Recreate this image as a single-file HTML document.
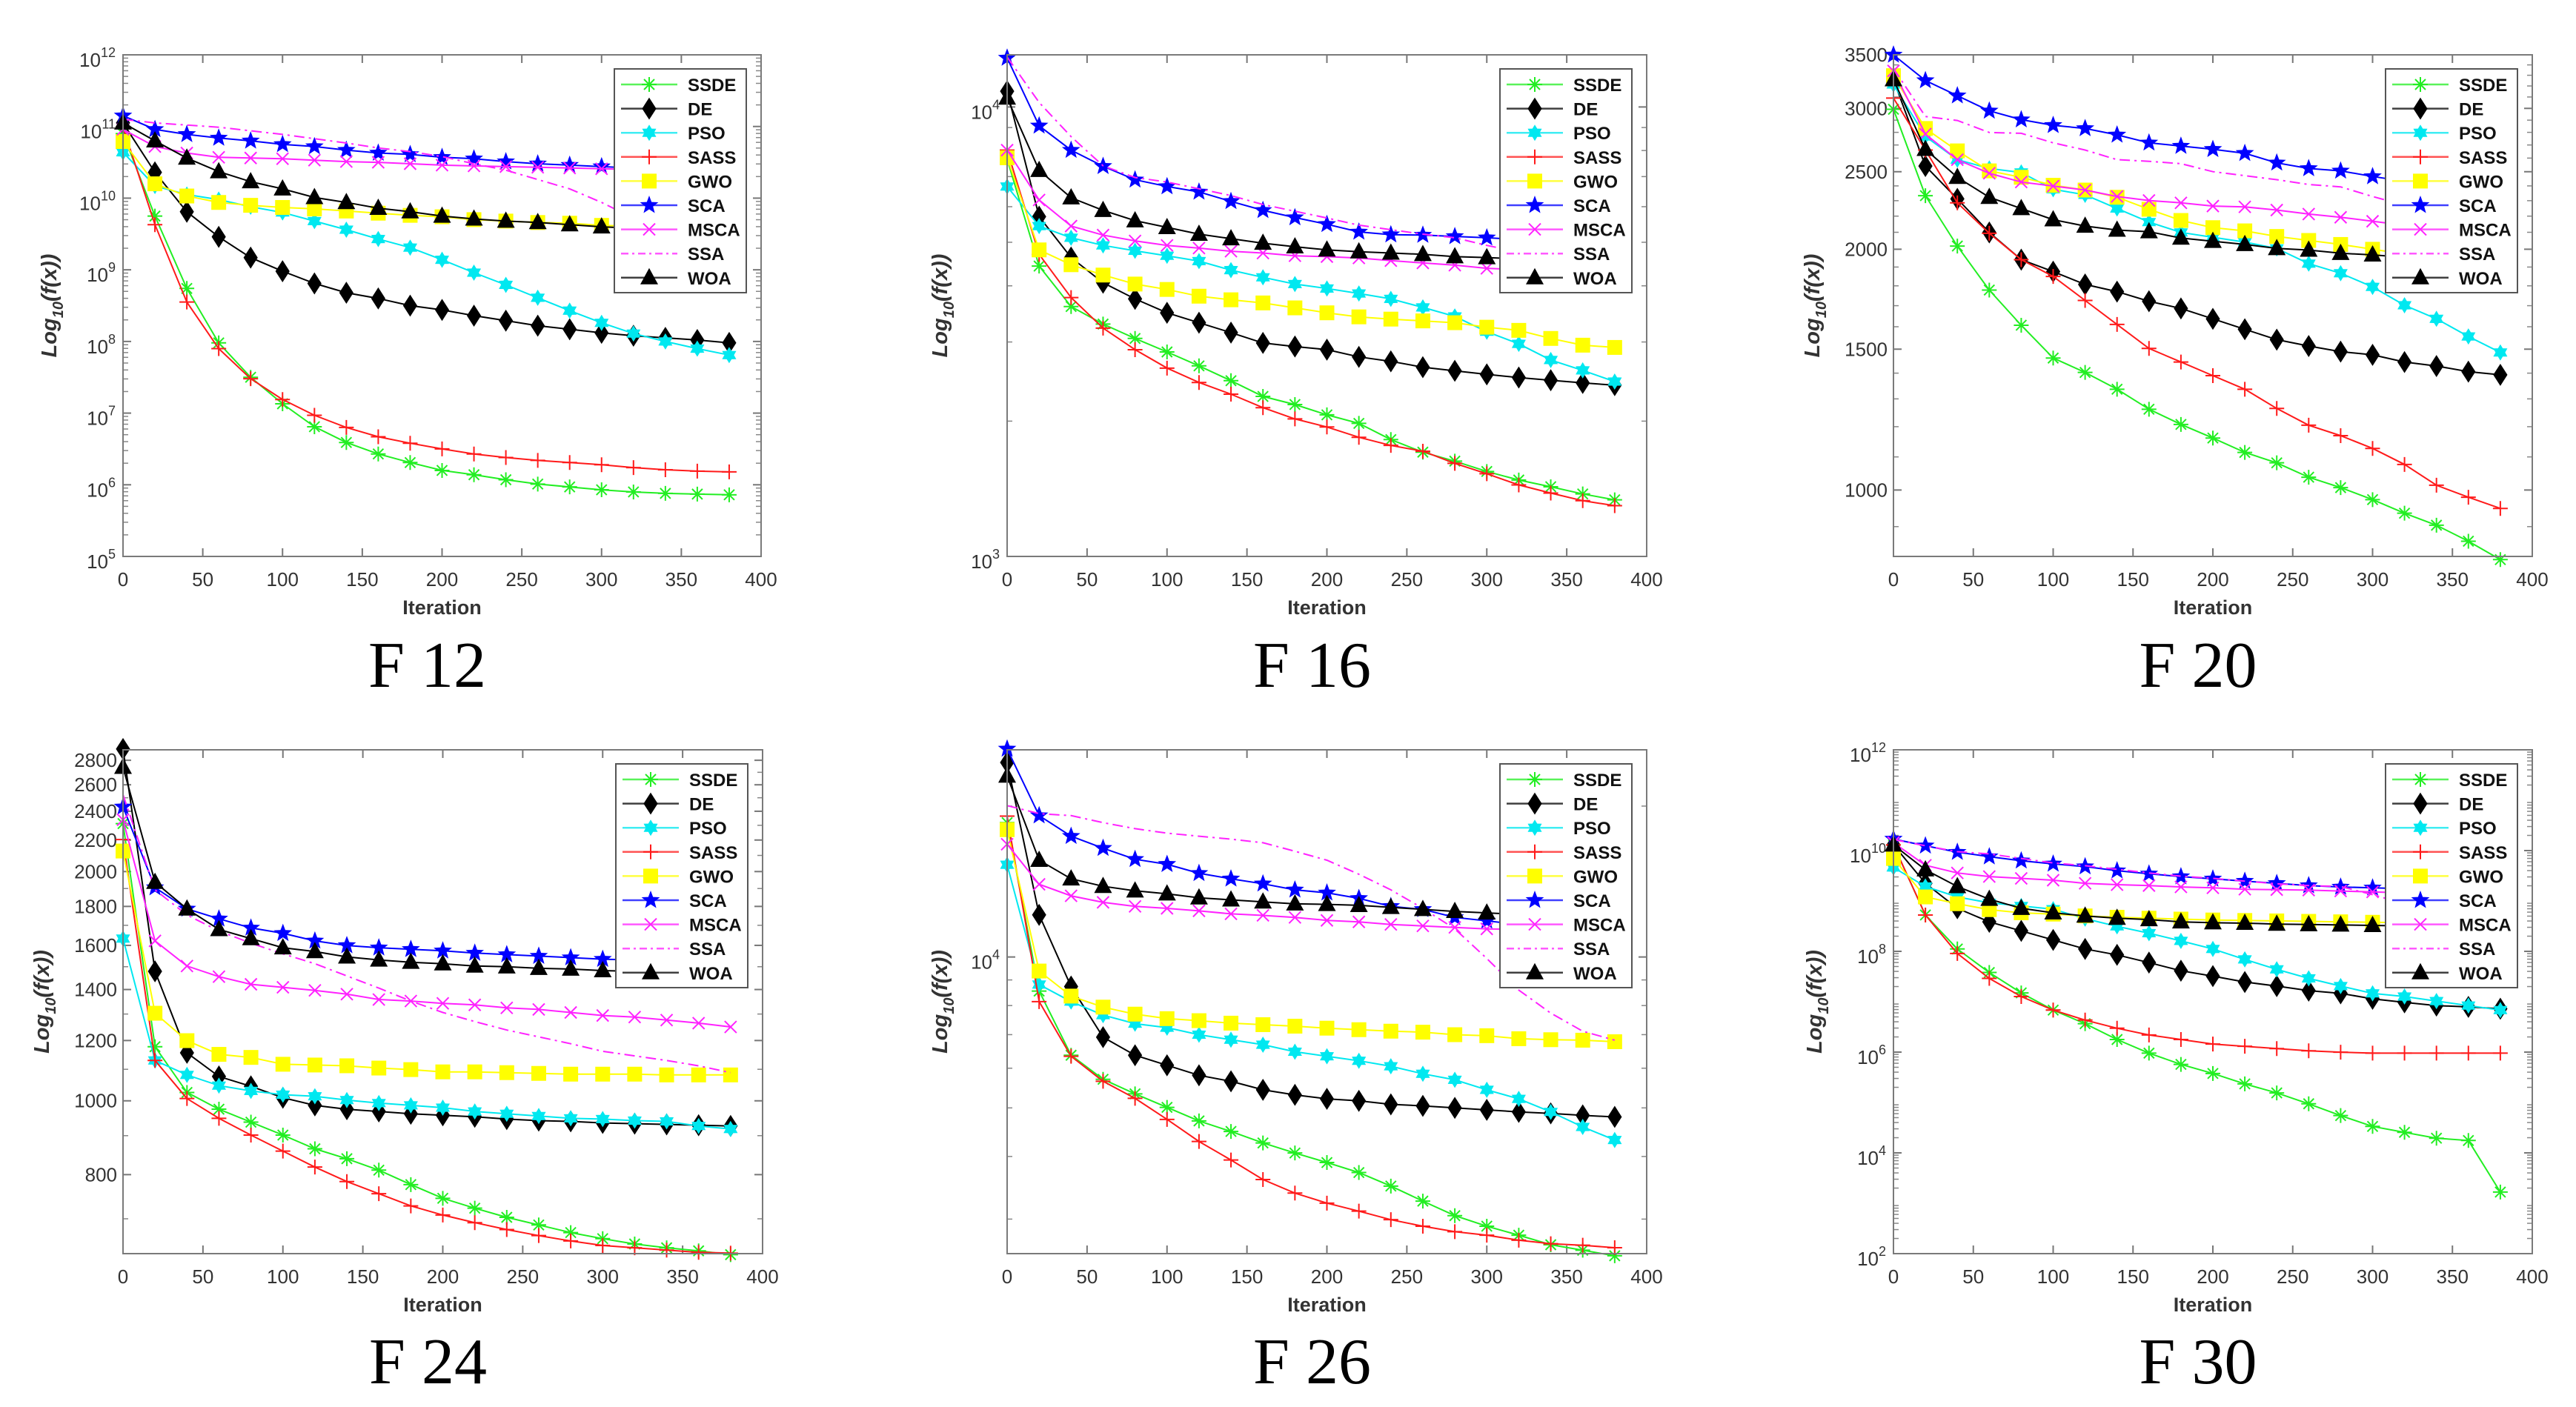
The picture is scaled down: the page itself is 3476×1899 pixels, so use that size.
<!DOCTYPE html>
<html><head><meta charset="utf-8"><style>
html,body{margin:0;padding:0;background:#fff;}
svg{display:block;}
</style></head>
<body>
<svg id="fig" xmlns="http://www.w3.org/2000/svg" width="3476" height="1899" viewBox="0 0 3476 1899"></svg>
<script>
const iters=[0,20,40,60,80,100,120,140,160,180,200,220,240,260,280,300,320,340,360,380];
const seriesNames=['SSDE','DE','PSO','SASS','GWO','SCA','MSCA','SSA','WOA'];
const xTicks=[0,50,100,150,200,250,300,350,400];

// values are log10(f(x))
const f12_SSDE=[10.9,9.75,8.74,7.98,7.5,7.13,6.81,6.59,6.43,6.31,6.2,6.14,6.07,6.01,5.97,5.93,5.9,5.88,5.87,5.86];
const f12_DE=[11.05,10.36,9.81,9.46,9.17,8.98,8.81,8.68,8.6,8.5,8.44,8.36,8.29,8.22,8.17,8.12,8.08,8.05,8.02,7.98];
const f12_PSO=[10.64,10.17,10.05,9.98,9.88,9.8,9.68,9.56,9.43,9.31,9.14,8.96,8.79,8.61,8.43,8.26,8.11,8.0,7.9,7.81];
const f12_SASS=[10.99,9.63,8.55,7.9,7.48,7.19,6.97,6.8,6.67,6.58,6.5,6.43,6.38,6.34,6.31,6.28,6.24,6.21,6.19,6.18];
const f12_GWO=[10.79,10.2,10.03,9.94,9.9,9.87,9.85,9.82,9.79,9.76,9.74,9.7,9.68,9.66,9.65,9.62,9.61,9.6,9.58,9.57];
const f12_SCA=[11.15,10.96,10.89,10.84,10.8,10.75,10.72,10.67,10.63,10.61,10.57,10.55,10.51,10.48,10.46,10.44,10.42,10.4,10.38,10.37];
const f12_MSCA=[10.96,10.72,10.63,10.57,10.56,10.55,10.53,10.51,10.5,10.48,10.46,10.45,10.44,10.43,10.42,10.41,10.4,10.39,10.38,10.37];
const f12_SSA=[11.1,11.05,11.02,10.99,10.94,10.89,10.83,10.77,10.7,10.65,10.58,10.48,10.39,10.26,10.13,9.94,9.72,9.5,9.3,9.1];
const f12_WOA=[11.05,10.8,10.56,10.37,10.23,10.13,10.01,9.94,9.86,9.81,9.75,9.71,9.68,9.66,9.63,9.6,9.58,9.56,9.55,9.54];

const f16_SSDE=[3.884,3.646,3.556,3.517,3.485,3.455,3.424,3.391,3.356,3.338,3.315,3.296,3.26,3.232,3.212,3.189,3.17,3.155,3.139,3.126];
const f16_DE=[4.035,3.756,3.665,3.609,3.573,3.542,3.52,3.498,3.475,3.467,3.46,3.444,3.434,3.421,3.413,3.405,3.398,3.392,3.386,3.381];
const f16_PSO=[3.823,3.735,3.709,3.692,3.68,3.669,3.657,3.637,3.621,3.606,3.596,3.585,3.573,3.554,3.534,3.5,3.473,3.437,3.414,3.389];
const f16_SASS=[3.904,3.672,3.576,3.508,3.46,3.419,3.387,3.361,3.331,3.306,3.288,3.265,3.247,3.234,3.207,3.184,3.159,3.141,3.124,3.113];
const f16_GWO=[3.887,3.682,3.649,3.626,3.606,3.594,3.579,3.571,3.564,3.553,3.542,3.533,3.528,3.524,3.52,3.51,3.503,3.485,3.47,3.465];
const f16_SCA=[4.109,3.958,3.904,3.868,3.838,3.823,3.811,3.79,3.77,3.754,3.739,3.722,3.716,3.715,3.712,3.709,3.705,3.702,3.699,3.697];
const f16_MSCA=[3.904,3.793,3.735,3.715,3.702,3.692,3.686,3.679,3.675,3.669,3.667,3.664,3.658,3.653,3.648,3.641,3.638,3.635,3.632,3.629];
const f16_SSA=[4.111,4.01,3.934,3.869,3.843,3.833,3.818,3.803,3.783,3.768,3.753,3.737,3.727,3.717,3.709,3.692,3.677,3.662,3.646,3.631];
const f16_WOA=[4.02,3.859,3.798,3.77,3.747,3.732,3.717,3.707,3.697,3.689,3.682,3.678,3.675,3.672,3.667,3.665,3.662,3.66,3.658,3.656];

const f20_SSDE=[3.476,3.368,3.305,3.25,3.206,3.165,3.147,3.126,3.101,3.082,3.065,3.047,3.034,3.016,3.003,2.988,2.971,2.956,2.936,2.913];
const f20_DE=[3.513,3.405,3.364,3.322,3.288,3.273,3.257,3.248,3.236,3.227,3.214,3.201,3.188,3.18,3.173,3.169,3.16,3.155,3.148,3.144];
const f20_PSO=[3.507,3.442,3.413,3.402,3.397,3.376,3.369,3.352,3.335,3.322,3.316,3.31,3.302,3.283,3.271,3.254,3.231,3.214,3.192,3.172];
const f20_SASS=[3.49,3.425,3.359,3.321,3.288,3.267,3.237,3.207,3.177,3.16,3.143,3.126,3.102,3.081,3.068,3.052,3.032,3.006,2.991,2.977];
const f20_GWO=[3.518,3.452,3.424,3.399,3.391,3.381,3.375,3.366,3.351,3.337,3.328,3.324,3.317,3.312,3.307,3.301,3.295,3.289,3.284,3.278];
const f20_SCA=[3.544,3.512,3.493,3.474,3.463,3.456,3.452,3.444,3.434,3.43,3.426,3.421,3.409,3.402,3.399,3.392,3.386,3.38,3.375,3.369];
const f20_MSCA=[3.524,3.445,3.413,3.396,3.385,3.38,3.375,3.367,3.362,3.359,3.355,3.354,3.35,3.345,3.341,3.336,3.331,3.326,3.322,3.318];
const f20_SSA=[3.527,3.467,3.462,3.447,3.446,3.434,3.425,3.413,3.411,3.408,3.398,3.393,3.388,3.382,3.379,3.367,3.356,3.345,3.334,3.322];
const f20_WOA=[3.513,3.426,3.391,3.366,3.352,3.338,3.33,3.325,3.323,3.315,3.311,3.307,3.302,3.3,3.296,3.294,3.291,3.288,3.285,3.282];

const f24_SSDE=[3.364,3.071,3.011,2.989,2.972,2.955,2.937,2.924,2.909,2.89,2.872,2.859,2.847,2.837,2.827,2.819,2.812,2.807,2.803,2.798];
const f24_DE=[3.462,3.17,3.063,3.032,3.019,3.004,2.994,2.989,2.986,2.983,2.981,2.979,2.976,2.974,2.973,2.971,2.97,2.969,2.968,2.967];
const f24_PSO=[3.213,3.053,3.034,3.02,3.013,3.008,3.006,3.001,2.997,2.994,2.991,2.986,2.983,2.98,2.977,2.976,2.974,2.973,2.967,2.963];
const f24_SASS=[3.343,3.053,3.003,2.977,2.955,2.934,2.913,2.894,2.878,2.862,2.85,2.84,2.831,2.823,2.816,2.81,2.807,2.804,2.801,2.8];
const f24_GWO=[3.328,3.115,3.079,3.061,3.057,3.048,3.047,3.046,3.043,3.041,3.038,3.038,3.037,3.036,3.035,3.035,3.035,3.034,3.034,3.034];
const f24_SCA=[3.386,3.28,3.252,3.239,3.227,3.22,3.21,3.204,3.201,3.199,3.197,3.194,3.192,3.19,3.188,3.186,3.185,3.184,3.182,3.182];
const f24_MSCA=[3.369,3.21,3.177,3.163,3.153,3.149,3.145,3.14,3.133,3.131,3.128,3.126,3.122,3.12,3.116,3.112,3.11,3.106,3.102,3.097];
const f24_SSA=[3.402,3.277,3.244,3.223,3.207,3.193,3.18,3.164,3.148,3.131,3.116,3.104,3.093,3.084,3.075,3.065,3.059,3.053,3.046,3.037];
const f24_WOA=[3.438,3.287,3.252,3.225,3.213,3.201,3.196,3.189,3.185,3.182,3.18,3.177,3.176,3.174,3.173,3.171,3.17,3.17,3.169,3.168];

const f26_SSDE=[4.268,3.932,3.804,3.756,3.727,3.7,3.673,3.652,3.629,3.609,3.59,3.57,3.543,3.513,3.484,3.463,3.445,3.426,3.415,3.404];
const f26_DE=[4.388,4.084,3.941,3.84,3.804,3.784,3.764,3.752,3.735,3.725,3.717,3.713,3.706,3.703,3.699,3.695,3.691,3.688,3.684,3.681];
const f26_PSO=[4.184,3.945,3.911,3.884,3.867,3.859,3.845,3.835,3.825,3.811,3.802,3.793,3.782,3.767,3.755,3.735,3.717,3.691,3.661,3.635];
const f26_SASS=[4.281,3.911,3.802,3.752,3.718,3.676,3.632,3.595,3.556,3.529,3.509,3.493,3.476,3.463,3.452,3.445,3.435,3.428,3.425,3.42];
const f26_GWO=[4.254,3.972,3.922,3.9,3.886,3.877,3.873,3.868,3.865,3.862,3.858,3.855,3.852,3.85,3.845,3.843,3.837,3.835,3.834,3.831];
const f26_SCA=[4.415,4.282,4.241,4.217,4.195,4.185,4.167,4.156,4.146,4.134,4.128,4.117,4.101,4.095,4.079,4.072,4.065,4.061,4.057,4.054];
const f26_MSCA=[4.225,4.145,4.122,4.109,4.101,4.097,4.092,4.086,4.083,4.079,4.073,4.07,4.065,4.062,4.059,4.056,4.055,4.053,4.051,4.049];
const f26_SSA=[4.302,4.286,4.282,4.268,4.256,4.247,4.241,4.235,4.228,4.211,4.193,4.165,4.134,4.097,4.056,3.997,3.934,3.888,3.852,3.834];
const f26_WOA=[4.361,4.193,4.156,4.141,4.132,4.126,4.118,4.114,4.11,4.106,4.105,4.103,4.099,4.095,4.091,4.088,4.085,4.084,4.082,4.08];

const f30_SSDE=[10.113,8.721,8.047,7.58,7.175,6.834,6.564,6.25,5.98,5.756,5.576,5.369,5.19,4.974,4.74,4.525,4.408,4.291,4.246,3.222];
const f30_DE=[10.113,9.35,8.855,8.586,8.406,8.226,8.047,7.93,7.777,7.615,7.508,7.391,7.31,7.22,7.166,7.058,6.987,6.924,6.897,6.861];
const f30_PSO=[9.664,9.287,9.08,8.963,8.9,8.837,8.649,8.496,8.361,8.208,8.047,7.84,7.642,7.463,7.31,7.166,7.103,7.013,6.924,6.834];
const f30_SASS=[10.113,8.721,7.957,7.463,7.103,6.834,6.636,6.474,6.34,6.25,6.16,6.115,6.07,6.025,5.998,5.98,5.98,5.98,5.98,5.98];
const f30_GWO=[9.844,9.08,8.945,8.828,8.765,8.739,8.703,8.676,8.658,8.64,8.622,8.613,8.604,8.595,8.586,8.577,8.568,8.559,8.55,8.541];
const f30_SCA=[10.23,10.095,9.969,9.88,9.799,9.736,9.682,9.601,9.538,9.484,9.439,9.394,9.35,9.305,9.278,9.26,9.242,9.224,9.206,9.188];
const f30_MSCA=[10.158,9.709,9.556,9.484,9.448,9.412,9.35,9.323,9.305,9.278,9.26,9.233,9.224,9.215,9.197,9.179,9.161,9.143,9.125,9.107];
const f30_SSA=[10.221,10.095,9.978,9.934,9.844,9.754,9.7,9.628,9.556,9.493,9.448,9.394,9.341,9.305,9.287,9.125,8.945,8.855,8.765,8.676];
const f30_WOA=[10.113,9.619,9.287,9.035,8.855,8.765,8.703,8.658,8.631,8.586,8.568,8.559,8.541,8.532,8.523,8.514,8.505,8.496,8.496,8.487];

// y tick values
const f12Ticks=[5,6,7,8,9,10,11,12];
const f16Ticks=[3,4];
const f20Ticks=[1000,1500,2000,2500,3000,3500];
const f24Ticks=[800,1000,1200,1400,1600,1800,2000,2200,2400,2600,2800];
const f26Ticks=[4];
const f30Ticks=[2,4,6,8,10,12];

const NS='http://www.w3.org/2000/svg';
const svg=document.getElementById('fig');
function mk(tag,attrs,parent){const e=document.createElementNS(NS,tag);for(const k in attrs)e.setAttribute(k,attrs[k]);(parent||svg).appendChild(e);return e;}

const styles={
 SSDE:{c:'#22ee22',m:'ast'},DE:{c:'#000000',m:'diamond'},PSO:{c:'#00e8f0',m:'hex'},
 SASS:{c:'#ff1a1a',m:'plus'},GWO:{c:'#ffff00',m:'square'},SCA:{c:'#0000ff',m:'star'},
 MSCA:{c:'#ff22ff',m:'x'},SSA:{c:'#ff22ff',m:'none',dash:'14,6,3,6'},WOA:{c:'#000000',m:'tri'}
};

function marker(g,type,x,y,c){
 const r=10;
 if(type==='ast'){mk('path',{d:`M${x-r},${y}H${x+r}M${x},${y-r}V${y+r}M${x-7},${y-7}L${x+7},${y+7}M${x-7},${y+7}L${x+7},${y-7}`,stroke:c,'stroke-width':2,fill:'none'},g);}
 else if(type==='plus'){mk('path',{d:`M${x-r},${y}H${x+r}M${x},${y-r}V${y+r}`,stroke:c,'stroke-width':2,fill:'none'},g);}
 else if(type==='x'){mk('path',{d:`M${x-8},${y-8}L${x+8},${y+8}M${x-8},${y+8}L${x+8},${y-8}`,stroke:c,'stroke-width':2,fill:'none'},g);}
 else if(type==='diamond'){mk('polygon',{points:`${x},${y-14} ${x+9},${y} ${x},${y+14} ${x-9},${y}`,fill:c,stroke:c},g);}
 else if(type==='square'){mk('rect',{x:x-10,y:y-10,width:20,height:20,fill:c},g);}
 else if(type==='tri'){mk('polygon',{points:`${x},${y-13} ${x+12},${y+9} ${x-12},${y+9}`,fill:c},g);}
 else if(type==='star'||type==='hex'){
  const n=type==='star'?5:6,ro=type==='star'?13:11,ri=type==='star'?5.5:6.5;let p=[];
  for(let i=0;i<2*n;i++){const a=-Math.PI/2+i*Math.PI/n,rr=i%2?ri:ro;p.push((x+rr*Math.cos(a)).toFixed(1)+','+(y+rr*Math.sin(a)).toFixed(1));}
  mk('polygon',{points:p.join(' '),fill:c},g);
 }
}

function yLabelSup(g,x,y,exp,name){
 const t=mk('text',{x:x,y:y,'text-anchor':'end','font-family':'Liberation Sans, sans-serif','font-size':26,fill:'#333'},g);
 
 
 t.appendChild(document.createTextNode('10'));
 const s=mk('tspan',{dy:-13,'font-size':18},t);s.textContent=exp;
 t.setAttribute('dx',-18);
}

function drawChart(cfg){
 const g=mk('g',{});
 
 
 const {x0,x1,y0,y1,lo,hi}=cfg;
 const xs=v=>x0+v/400*(x1-x0);
 const ys=v=>y1-(v-lo)/(hi-lo)*(y1-y0);
 const mg=mk('g',{stroke:'#888','stroke-width':1.5},g);
 
 
 for(let d=Math.floor(lo)-1;d<=Math.ceil(hi);d++){
  const step=cfg.minorStep?cfg.minorStep:Math.pow(10,d);
  const start=cfg.minorStep?Math.ceil(Math.pow(10,lo)/step)*step:2*Math.pow(10,d);
  if(cfg.minorStep&&d!==Math.floor(lo)) continue;
  const end=cfg.minorStep?Math.pow(10,hi):9*Math.pow(10,d);
  for(let v=start;v<=end+1e-9;v+=step){
   const lv=Math.log10(v); if(lv<=lo||lv>=hi) continue;
   const yy=ys(lv);
   mk('line',{x1:x0,x2:x0+7,y1:yy,y2:yy},mg);mk('line',{x1:x1,x2:x1-7,y1:yy,y2:yy},mg);
  }
 }
 xTicks.forEach(t=>{
  const xx=xs(t);
  mk('line',{x1:xx,x2:xx,y1:y1,y2:y1-11,stroke:'#777','stroke-width':2},g);
  mk('line',{x1:xx,x2:xx,y1:y0,y2:y0+11,stroke:'#777','stroke-width':2},g);
  const tl=mk('text',{x:xx,y:y1+40,'text-anchor':'middle','font-family':'Liberation Sans, sans-serif','font-size':26,fill:'#333'},g);
  
  
  tl.textContent=t;
 });
 cfg.ticks.forEach(t=>{
  const lv=cfg.plain?Math.log10(t):t;
  const yy=ys(lv);
  mk('line',{x1:x0,x2:x0+11,y1:yy,y2:yy,stroke:'#777','stroke-width':2},g);
  mk('line',{x1:x1,x2:x1-11,y1:yy,y2:yy,stroke:'#777','stroke-width':2},g);
  if(cfg.plain){
   const tl=mk('text',{x:x0-8,y:yy+9,'text-anchor':'end','font-family':'Liberation Sans, sans-serif','font-size':26,fill:'#333'},g);
   
   
   tl.textContent=t;
  } else {
   yLabelSup(g,x0+8,yy+16,t,'y-tick-label');
  }
 });
 seriesNames.forEach((n,si)=>{
  const vals=cfg.data[si];const st=styles[n];
  const sg=mk('g',{},g);
  
  
  const pts=vals.map((v,i)=>xs(iters[i]).toFixed(1)+','+ys(v).toFixed(1)).join(' ');
  const pl=mk('polyline',{points:pts,fill:'none',stroke:st.c,'stroke-width':2},sg);
  if(st.dash)pl.setAttribute('stroke-dasharray',st.dash);
  if(st.m!=='none')vals.forEach((v,i)=>marker(sg,st.m,xs(iters[i]),ys(v),st.c));
 });
 const fr=mk('rect',{x:x0,y:y0,width:x1-x0,height:y1-y0,fill:'none',stroke:'#7a7a7a','stroke-width':2},g);
 
 
 const lx=x1-20-178,ly=y0+19;
 const lg=mk('g',{},g);
 
 
 mk('rect',{x:lx,y:ly,width:178,height:302,fill:'#fff',stroke:'#555','stroke-width':2},lg);
 seriesNames.forEach((n,i)=>{
  const st=styles[n];const yy=ly+21+i*32.6;
  const eg=mk('g',{},lg);
  
  
  const ln=mk('line',{x1:lx+9,x2:lx+85,y1:yy,y2:yy,stroke:st.c,'stroke-width':2.5,opacity:0.75},eg);
  if(st.dash)ln.setAttribute('stroke-dasharray','10,5,3,5');
  if(st.m!=='none')marker(eg,st.m,lx+47,yy,st.c);
  const tx=mk('text',{x:lx+99,y:yy+9,'font-family':'Liberation Sans, sans-serif','font-size':24,'font-weight':'bold',fill:'#111'},eg);
  tx.textContent=n;
 });
 const xt=mk('text',{x:(x0+x1)/2,y:y1+78,'text-anchor':'middle','font-family':'Liberation Sans, sans-serif','font-size':27,'font-weight':'bold',fill:'#333'},g);
 
 
 xt.textContent='Iteration';
 const yc=(y0+y1)/2;const yx=cfg.ylx;
 const yt=mk('text',{x:yx,y:yc,transform:`rotate(-90 ${yx} ${yc})`,'text-anchor':'middle','font-family':'Liberation Sans, sans-serif','font-size':29,'font-weight':'bold','font-style':'italic',fill:'#333'},g);
 
 
 yt.appendChild(document.createTextNode('Log'));
 const s1=mk('tspan',{dy:9,'font-size':20},yt);s1.textContent='10';
 const s2=mk('tspan',{dy:-9},yt);s2.textContent='(f(x))';
 const cp=mk('text',{x:(x0+x1)/2-20,y:cfg.capY,'text-anchor':'middle','font-family':'Liberation Serif, serif','font-size':88,fill:'#000'},g);
 
 
 cp.textContent=cfg.caption;
}

const L=Math.log10;
drawChart({name:'chart-f12',caption:'F 12',x0:166,x1:1027,y0:74,y1:751,lo:5,hi:12,ticks:f12Ticks,ylx:76,capY:927,
 data:[f12_SSDE,f12_DE,f12_PSO,f12_SASS,f12_GWO,f12_SCA,f12_MSCA,f12_SSA,f12_WOA]});
drawChart({name:'chart-f16',caption:'F 16',x0:1359,x1:2222,y0:74,y1:751,lo:3,hi:4.116,ticks:f16Ticks,ylx:1278,capY:927,
 data:[f16_SSDE,f16_DE,f16_PSO,f16_SASS,f16_GWO,f16_SCA,f16_MSCA,f16_SSA,f16_WOA]});
drawChart({name:'chart-f20',caption:'F 20',x0:2555,x1:3417,y0:74,y1:751,lo:L(826),hi:L(3500),ticks:f20Ticks,plain:true,minorStep:100,ylx:2455,capY:927,
 data:[f20_SSDE,f20_DE,f20_PSO,f20_SASS,f20_GWO,f20_SCA,f20_MSCA,f20_SSA,f20_WOA]});
drawChart({name:'chart-f24',caption:'F 24',x0:166,x1:1029,y0:1012,y1:1692,lo:L(630),hi:L(2890),ticks:f24Ticks,plain:true,minorStep:100,ylx:66,capY:1867,
 data:[f24_SSDE,f24_DE,f24_PSO,f24_SASS,f24_GWO,f24_SCA,f24_MSCA,f24_SSA,f24_WOA]});
drawChart({name:'chart-f26',caption:'F 26',x0:1359,x1:2222,y0:1012,y1:1692,lo:L(2560),hi:L(25900),ticks:f26Ticks,ylx:1278,capY:1867,
 data:[f26_SSDE,f26_DE,f26_PSO,f26_SASS,f26_GWO,f26_SCA,f26_MSCA,f26_SSA,f26_WOA]});
drawChart({name:'chart-f30',caption:'F 30',x0:2555,x1:3417,y0:1012,y1:1692,lo:2,hi:12,ticks:f30Ticks,ylx:2458,capY:1867,
 data:[f30_SSDE,f30_DE,f30_PSO,f30_SASS,f30_GWO,f30_SCA,f30_MSCA,f30_SSA,f30_WOA]});
</script>
</body></html>
